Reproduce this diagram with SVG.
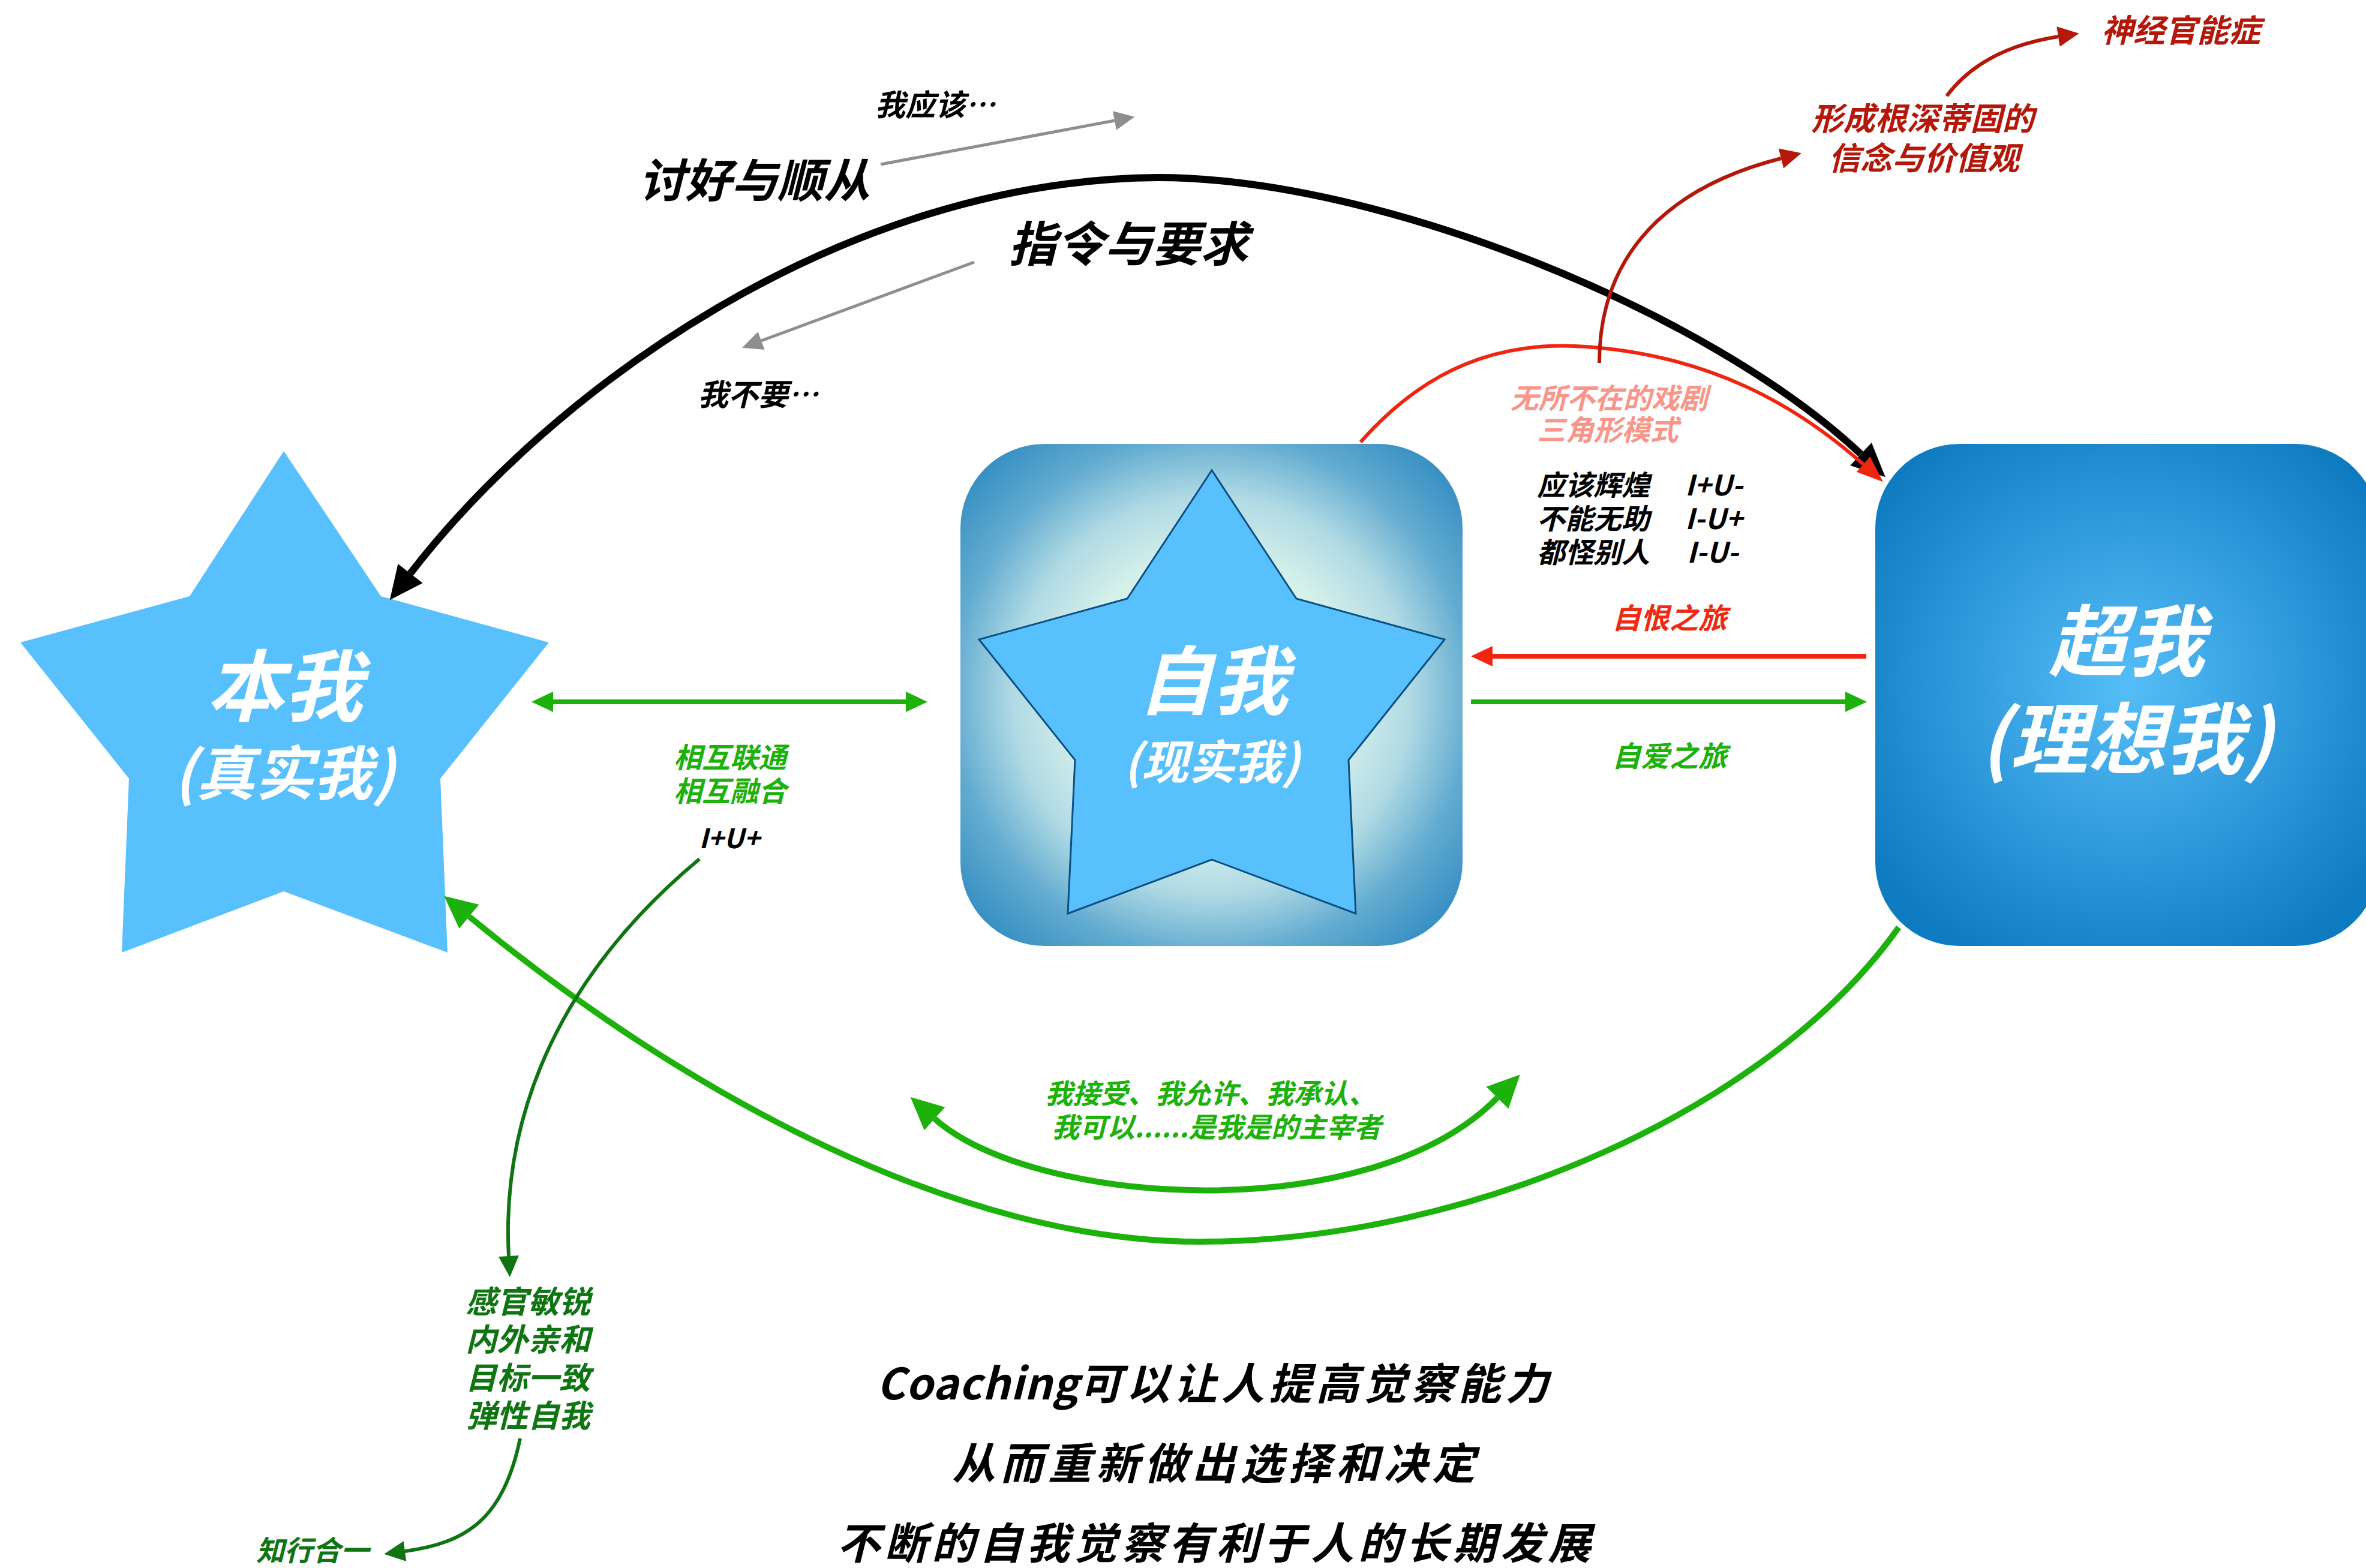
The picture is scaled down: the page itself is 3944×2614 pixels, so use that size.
<svg xmlns="http://www.w3.org/2000/svg" width="3944" height="2614" viewBox="0 0 3944 2614">
<style>
.t{font-family:"Noto Sans CJK SC","Noto Sans",sans-serif;font-weight:700;font-style:italic}
.m{text-anchor:middle}
.w{fill:#ffffff}
.k{fill:#000000}
.g{fill:#1DB10B}
.dg{fill:#0F7412}
.r{fill:#EE2A12}
.dr{fill:#B3180A}
.pk{fill:#F8968A}
.c{fill:none;stroke-linecap:butt}
</style>
<defs>
<radialGradient id="gMid" cx="0.5" cy="0.5" r="0.72">
<stop offset="0" stop-color="#F2FFF6"/>
<stop offset="0.38" stop-color="#D6F1EA"/>
<stop offset="0.55" stop-color="#B0DAE4"/>
<stop offset="0.72" stop-color="#62ABD0"/>
<stop offset="1" stop-color="#1A7DBA"/>
</radialGradient>
<radialGradient id="gRight" cx="0.5" cy="0.48" r="0.62">
<stop offset="0" stop-color="#55BEF8"/>
<stop offset="0.6" stop-color="#2A95D8"/>
<stop offset="1" stop-color="#0E7BC0"/>
</radialGradient>
<marker id="mBlack" markerUnits="userSpaceOnUse" orient="auto" overflow="visible" markerWidth="56" markerHeight="52" refX="0" refY="0"><path d="M0,-26 L56,0 L0,26 z" fill="#000"/></marker>
<marker id="mBlackS" markerUnits="userSpaceOnUse" orient="auto-start-reverse" overflow="visible" markerWidth="56" markerHeight="52" refX="0" refY="0"><path d="M0,-26 L56,0 L0,26 z" fill="#000"/></marker>
<marker id="mRedArc" markerUnits="userSpaceOnUse" orient="auto" overflow="visible" markerWidth="44" markerHeight="34" refX="0" refY="0"><path d="M0,-17 L44,0 L0,17 z" fill="#F0250F"/></marker>
<marker id="mRed" markerUnits="userSpaceOnUse" orient="auto" overflow="visible" markerWidth="36" markerHeight="34" refX="0" refY="0"><path d="M0,-17 L36,0 L0,17 z" fill="#F0250F"/></marker>
<marker id="mDkRed" markerUnits="userSpaceOnUse" orient="auto" overflow="visible" markerWidth="35" markerHeight="34" refX="0" refY="0"><path d="M0,-17 L35,0 L0,17 z" fill="#B3180A"/></marker>
<marker id="mGray" markerUnits="userSpaceOnUse" orient="auto" overflow="visible" markerWidth="34" markerHeight="32" refX="0" refY="0"><path d="M0,-16 L34,0 L0,16 z" fill="#8E8E8E"/></marker>
<marker id="mGreen" markerUnits="userSpaceOnUse" orient="auto" overflow="visible" markerWidth="36" markerHeight="34" refX="0" refY="0"><path d="M0,-17 L36,0 L0,17 z" fill="#1DB10B"/></marker>
<marker id="mGreenS" markerUnits="userSpaceOnUse" orient="auto-start-reverse" overflow="visible" markerWidth="36" markerHeight="34" refX="0" refY="0"><path d="M0,-17 L36,0 L0,17 z" fill="#1DB10B"/></marker>
<marker id="mGreenBig" markerUnits="userSpaceOnUse" orient="auto" overflow="visible" markerWidth="54" markerHeight="52" refX="0" refY="0"><path d="M0,-26 L54,0 L0,26 z" fill="#1DB10B"/></marker>
<marker id="mGreenBigS" markerUnits="userSpaceOnUse" orient="auto-start-reverse" overflow="visible" markerWidth="54" markerHeight="52" refX="0" refY="0"><path d="M0,-26 L54,0 L0,26 z" fill="#1DB10B"/></marker>
<marker id="mDkGreen" markerUnits="userSpaceOnUse" orient="auto" overflow="visible" markerWidth="35" markerHeight="34" refX="0" refY="0"><path d="M0,-17 L35,0 L0,17 z" fill="#0F7412"/></marker>
</defs>
<rect x="0" y="0" width="3944" height="2614" fill="#ffffff"/>

<g id="node-benwo">
<polygon points="473,752 635,994 915,1071 734,1298 746,1588 473,1486 203,1588 215,1298 34,1071 316,994" fill="#58C0FC"/>
<text class="t m w" x="474" y="1192" font-size="130">本我</text>
<text class="t m w" x="474" y="1325" font-size="98">(真实我)</text>
</g>

<g id="node-ziwo">
<rect x="1601" y="740" width="837" height="837" rx="140" ry="140" fill="url(#gMid)"/>
<polygon points="2020,784 2161,998 2408,1066 2248,1267 2260,1523 2020,1433 1780,1523 1792,1267 1632,1066 1879,998" fill="#58C0FC" stroke="#0B4F85" stroke-width="3" stroke-linejoin="miter"/>
<text class="t m w" x="2022" y="1181" font-size="125">自我</text>
<text class="t m w" x="2020" y="1299" font-size="78">(现实我)</text>
</g>

<g id="node-chaowo">
<rect x="3126" y="740" width="840" height="837" rx="140" ry="140" fill="url(#gRight)"/>
<text class="t m w" x="3545" y="1117" font-size="130">超我</text>
<text class="t m w" x="3545" y="1280" font-size="130">(理想我)</text>
</g>

<g id="connectors">
<path class="c" d="M 684 956 C 920 650, 1400 300, 1930 296 C 2300 296, 2850 520, 3102 757" stroke="#000" stroke-width="12" marker-start="url(#mBlackS)" marker-end="url(#mBlack)"/>
<path class="c" d="M 2268 737 C 2380 610, 2500 572, 2626 577 C 2850 588, 3000 680, 3106 774" stroke="#F0250F" stroke-width="6" marker-end="url(#mRedArc)"/>
<path class="c" d="M 2666 605 C 2666 450, 2750 320, 2969 264" stroke="#B3180A" stroke-width="6" marker-end="url(#mDkRed)"/>
<path class="c" d="M 3245 160 C 3290 100, 3360 72, 3431 61" stroke="#B3180A" stroke-width="6" marker-end="url(#mDkRed)"/>
<path class="c" d="M 1468 274 L 1858 201" stroke="#8E8E8E" stroke-width="5" marker-end="url(#mGray)"/>
<path class="c" d="M 1624 437 L 1269 568" stroke="#8E8E8E" stroke-width="5" marker-end="url(#mGray)"/>
<path class="c" d="M 922 1170 L 1510 1170" stroke="#1DB10B" stroke-width="8" marker-start="url(#mGreenS)" marker-end="url(#mGreen)"/>
<path class="c" d="M 3111 1094 L 2488 1094" stroke="#F0250F" stroke-width="8" marker-end="url(#mRed)"/>
<path class="c" d="M 2452 1170 L 3076 1170" stroke="#1DB10B" stroke-width="8" marker-end="url(#mGreen)"/>
<path class="c" d="M 3165 1546 C 2950 1850, 2450 2070, 2000 2070 C 1600 2070, 1150 1830, 782 1528" stroke="#1DB10B" stroke-width="10" marker-end="url(#mGreenBig)"/>
<path class="c" d="M 1558 1865 C 1720 2010, 2280 2050, 2496 1830" stroke="#1DB10B" stroke-width="10" marker-start="url(#mGreenBigS)" marker-end="url(#mGreenBig)"/>
<path class="c" d="M 1166 1432 C 940 1620, 835 1850, 848 2094" stroke="#0F7412" stroke-width="6" marker-end="url(#mDkGreen)"/>
<path class="c" d="M 867 2398 C 840 2530, 780 2572, 675 2586" stroke="#0F7412" stroke-width="6" marker-end="url(#mDkGreen)"/>
</g>

<g id="labels">
<text class="t k" x="1459" y="193" font-size="50">我应该…</text>
<text class="t k" x="1065" y="329" font-size="77">讨好与顺从</text>
<text class="t k" x="1681" y="436" font-size="80">指令与要求</text>
<text class="t k" x="1164" y="676" font-size="50">我不要…</text>
<text class="t dr" x="3503" y="70" font-size="53">神经官能症</text>
<text class="t m dr" x="3205" y="217" font-size="53">形成根深蒂固的</text>
<text class="t m dr" x="3207" y="283" font-size="53">信念与价值观</text>
<text class="t m pk" x="2682" y="681" font-size="47">无所不在的戏剧</text>
<text class="t m pk" x="2680" y="734" font-size="47">三角形模式</text>
<text class="t k" x="2562" y="826" font-size="47">应该辉煌</text>
<text class="t k" x="2809" y="826" font-size="47">I+U-</text>
<text class="t k" x="2562" y="882" font-size="47">不能无助</text>
<text class="t k" x="2809" y="882" font-size="47">I-U+</text>
<text class="t k" x="2562" y="938" font-size="47">都怪别人</text>
<text class="t k" x="2812" y="938" font-size="47">I-U-</text>
<text class="t m r" x="2783" y="1048" font-size="48">自恨之旅</text>
<text class="t m g" x="2783" y="1278" font-size="48">自爱之旅</text>
<text class="t m g" x="1217" y="1280" font-size="47">相互联通</text>
<text class="t m g" x="1217" y="1336" font-size="47">相互融合</text>
<text class="t m k" x="1216" y="1414" font-size="45">I+U+</text>
<text class="t m g" x="2018" y="1840" font-size="46">我接受、我允许、我承认、</text>
<text class="t m g" x="2028" y="1896" font-size="46">我可以......是我是的主宰者</text>
<text class="t m dg" x="880" y="2189" font-size="52">感官敏锐</text>
<text class="t m dg" x="880" y="2252" font-size="52">内外亲和</text>
<text class="t m dg" x="880" y="2316" font-size="52">目标一致</text>
<text class="t m dg" x="880" y="2379" font-size="52">弹性自我</text>
<text class="t dg" x="427" y="2602" font-size="47">知行合一</text>
<text class="t m k" x="2025" y="2333" font-size="72" letter-spacing="7"><tspan letter-spacing="1">Coaching</tspan>可以让人提高觉察能力</text>
<text class="t m k" x="2027" y="2466" font-size="72" letter-spacing="8">从而重新做出选择和决定</text>
<text class="t m k" x="2027" y="2599" font-size="72" letter-spacing="7">不断的自我觉察有利于人的长期发展</text>
</g>
</svg>
